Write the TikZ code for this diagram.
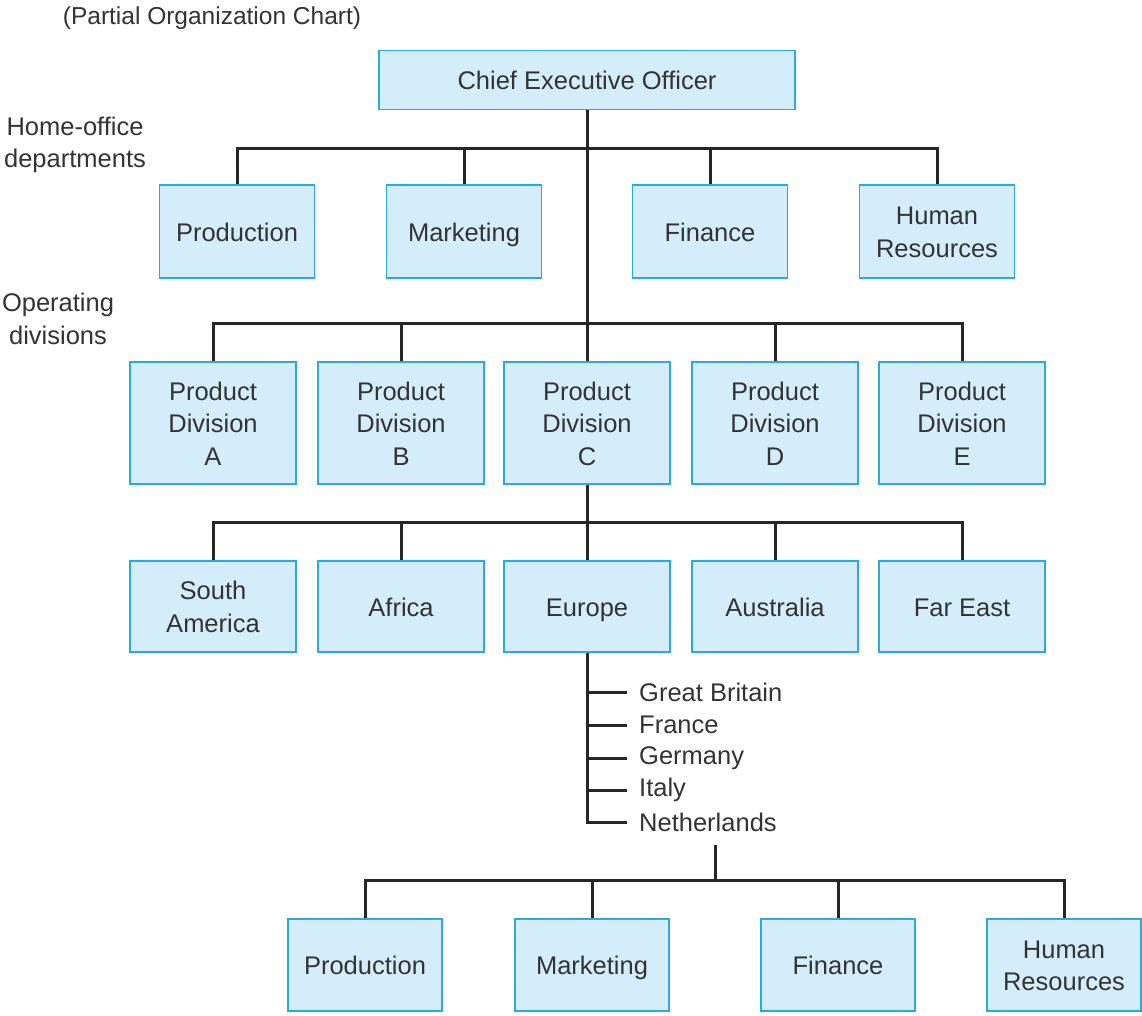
\documentclass[tikz,border=0pt]{standalone}
\usepackage{fontspec}
\setmainfont{Liberation Sans}
\definecolor{boxfill}{HTML}{D4EDFA}
\definecolor{boxline}{HTML}{2BAAE2}
\definecolor{txt}{HTML}{333333}
\newcommand\mystrut{\rule[-6.5pt]{0pt}{32pt}}
\begin{document}
\begin{tikzpicture}[x=1pt,y=-1pt,
  box/.style={draw=boxline,fill=boxfill,line width=1.5pt,align=center,text=txt,
    font=\fontsize{25.5}{32.5}\selectfont,inner sep=0pt,
    execute at end node=\mystrut},
  conn/.style={line width=3pt,draw=black!85,line join=miter},
  lbl/.style={text=txt,font=\fontsize{25.5}{32.5}\selectfont,align=center,inner sep=0pt},
  ctry/.style={text=txt,font=\fontsize{25.5}{32.5}\selectfont,anchor=west,inner sep=0pt}]
\useasboundingbox (0,0) rectangle (1142,1015);

% labels
\node[lbl,font=\fontsize{24.5}{32.5}\selectfont] (title) at (212,18) {(Partial Organization Chart)};
\node[lbl] (home) at (75,145) {Home-office\\departments};
\node[lbl] (oper) at (58,319) {Operating\\divisions};

% CEO
\node[box,minimum width=416,minimum height=59] (ceo) at (587,80) {\mystrut Chief Executive Officer};

% home-office departments
\begin{scope}[every node/.style={box,minimum width=155,minimum height=93}]
\node (hprod) at (237,231.5) {\mystrut Production};
\node (hmkt) at (464,231.5) {\mystrut Marketing};
\node (hfin) at (710,231.5) {\mystrut Finance};
\node (hhr) at (937,231.5) {\mystrut Human\\Resources};
\end{scope}

% product divisions
\begin{scope}[every node/.style={box,minimum width=166,minimum height=122}]
\node (pa) at (213,423) {\mystrut Product\\Division\\A};
\node (pb) at (401,423) {\mystrut Product\\Division\\B};
\node (pc) at (587,423) {\mystrut Product\\Division\\C};
\node (pd) at (775,423) {\mystrut Product\\Division\\D};
\node (pe) at (962,423) {\mystrut Product\\Division\\E};
\end{scope}

% regions
\begin{scope}[every node/.style={box,minimum width=166,minimum height=91}]
\node (rsa) at (213,606.5) {\mystrut South\\America};
\node (raf) at (401,606.5) {\mystrut Africa};
\node (reu) at (587,606.5) {\mystrut Europe};
\node (rau) at (775,606.5) {\mystrut Australia};
\node (rfe) at (962,606.5) {\mystrut Far East};
\end{scope}

% countries
\node[ctry] (gb) at (639,692) {Great Britain};
\node[ctry] (fr) at (639,725) {France};
\node[ctry] (de) at (639,758) {Germany};
\node[ctry] (it) at (639,790) {Italy};
\node[ctry] (nl) at (639,822) {Netherlands};

% bottom departments
\begin{scope}[every node/.style={box,minimum width=154,minimum height=92}]
\node (bprod) at (365,965) {\mystrut Production};
\node (bmkt) at (592,965) {\mystrut Marketing};
\node (bfin) at (838,965) {\mystrut Finance};
\node (bhr) at (1064,965) {\mystrut Human\\Resources};
\end{scope}

% bar levels
\coordinate (hbar) at (0,148);
\coordinate (obar) at (0,323);
\coordinate (rbar) at (0,522);
\coordinate (bbar) at (0,880);
\coordinate (nlsplit) at (715,845);

% connectors
\draw[conn] (ceo.south) -- (pc.north);
\draw[conn] (hprod.north) -- (hprod.north |- hbar) -- (hhr.north |- hbar) -- (hhr.north);
\draw[conn] (hmkt.north |- hbar) -- (hmkt.north);
\draw[conn] (hfin.north |- hbar) -- (hfin.north);

\draw[conn] (pa.north) -- (pa.north |- obar) -- (pe.north |- obar) -- (pe.north);
\draw[conn] (pb.north |- obar) -- (pb.north);
\draw[conn] (pd.north |- obar) -- (pd.north);

\draw[conn] (pc.south) -- (reu.north);
\draw[conn] (rsa.north) -- (rsa.north |- rbar) -- (rfe.north |- rbar) -- (rfe.north);
\draw[conn] (raf.north |- rbar) -- (raf.north);
\draw[conn] (rau.north |- rbar) -- (rau.north);

\draw[conn] (reu.south) -- (reu.south |- nl.west) -- ([xshift=-12pt]nl.west);
\foreach \c in {gb,fr,de,it}
  \draw[conn] (reu.south |- \c.west) -- ([xshift=-12pt]\c.west);

\draw[conn] (nlsplit) -- (nlsplit |- bbar);
\draw[conn] (bprod.north) -- (bprod.north |- bbar) -- (bhr.north |- bbar) -- (bhr.north);
\draw[conn] (bmkt.north |- bbar) -- (bmkt.north);
\draw[conn] (bfin.north |- bbar) -- (bfin.north);
\end{tikzpicture}
\end{document}
